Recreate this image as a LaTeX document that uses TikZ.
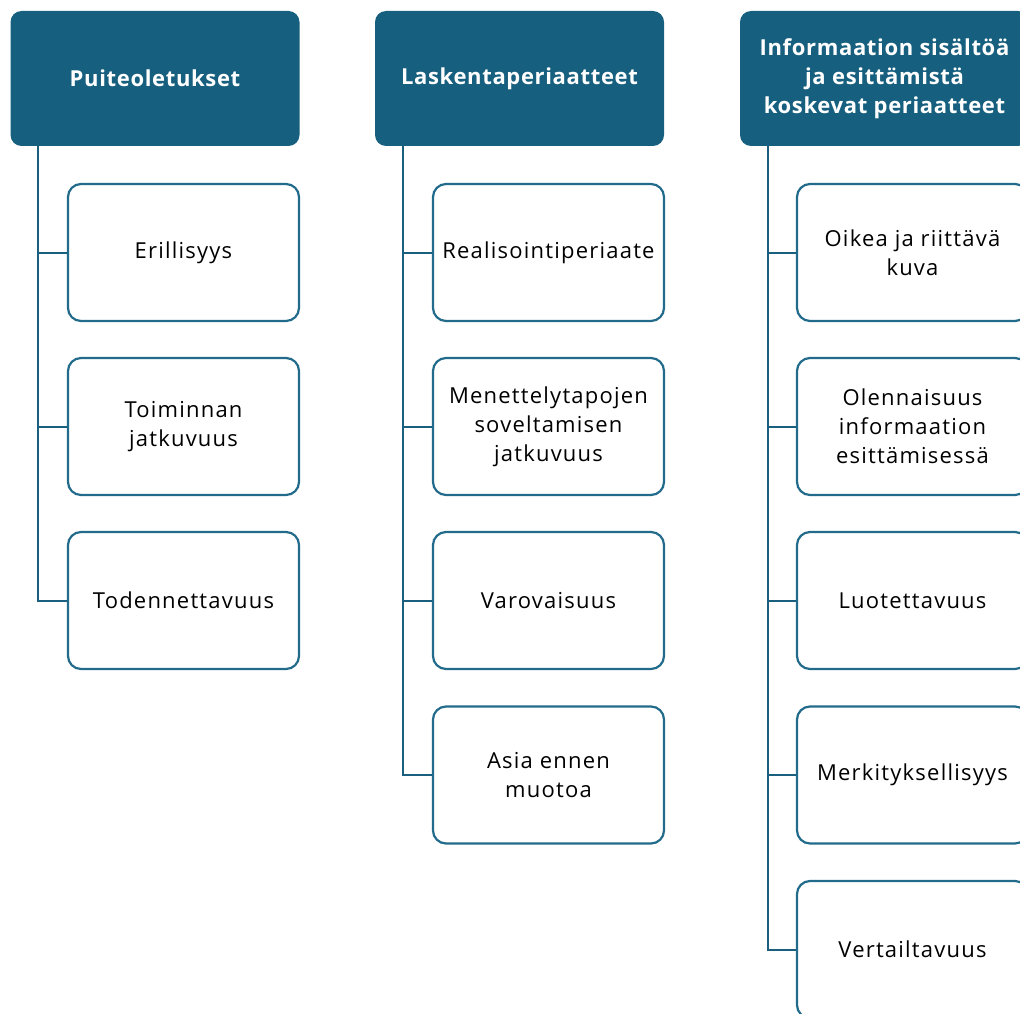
\documentclass[tikz,border=0pt]{standalone}
\usepackage{fontspec}
\setmainfont{Open Sans}[LetterSpace=3]
\definecolor{headblue}{HTML}{175F7E}
\definecolor{boxblue}{HTML}{226B8B}
\definecolor{lineblue}{HTML}{1B5F7F}

\begin{document}
\begin{tikzpicture}[x=1pt, y=-1pt,
	header/.style={rectangle, rounded corners=11pt, fill=headblue, text=white,
		minimum width=289pt, minimum height=135pt, align=center,
		font=\fontsize{22}{29}\selectfont\bfseries},
	item/.style={rectangle, rounded corners=13pt, draw=boxblue, line width=2.2pt,
		fill=white, text=black, minimum width=231pt, minimum height=137pt,
		align=center, font=\fontsize{22}{29}\selectfont\addfontfeature{LetterSpace=5.5}},
	branch/.style={draw=lineblue, line width=2pt}]
	\useasboundingbox (0,0) rectangle (1020,1014);
	\clip (0,0) rectangle (1020,1014);
	% Headers
	\node[header] (H1) at (155, 78.5) {Puiteoletukset};
	\node[header] (H2) at (519.5, 78.5) {Laskentaperiaatteet};
	\node[header] (H3) at (884.5, 78.5) {Informaation sisältöä\\ja esittämistä\\koskevat periaatteet};
	% Items below the first header
	\node[item] (A1) at (183.5, 252.5) {Erillisyys};
	\node[item] (A2) at (183.5, 426.5) {Toiminnan\\jatkuvuus};
	\node[item] (A3) at (183.5, 600.5) {Todennettavuus};
	% Items below the second header
	\node[item] (B1) at (548.5, 252.5) {Realisointiperiaate};
	\node[item] (B2) at (548.5, 426.5) {Menettelytapojen\\soveltamisen\\jatkuvuus};
	\node[item] (B3) at (548.5, 600.5) {Varovaisuus};
	\node[item] (B4) at (548.5, 775) {Asia ennen\\muotoa};
	% Items below the third header
	\node[item] (C1) at (912.5, 252.5) {Oikea ja riittävä\\kuva};
	\node[item] (C2) at (912.5, 426.5) {Olennaisuus\\informaation\\esittämisessä};
	\node[item] (C3) at (912.5, 600.5) {Luotettavuus};
	\node[item] (C4) at (912.5, 775) {Merkityksellisyys};
	\node[item] (C5) at (912.5, 949.5) {Vertailtavuus};
	% Connections from headers to items
	\foreach \h/\i in {H1/A1, H1/A2, H1/A3, H2/B1, H2/B2, H2/B3, H2/B4,
		H3/C1, H3/C2, H3/C3, H3/C4, H3/C5}
		\draw[branch] ([xshift=28pt]\h.south west) |- (\i.west);
\end{tikzpicture}
\end{document}
